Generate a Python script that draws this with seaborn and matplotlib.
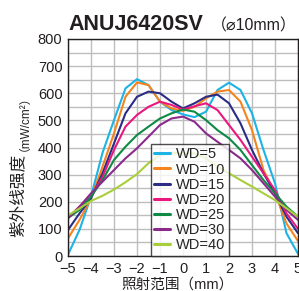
import numpy as np
import pandas as pd
import matplotlib
matplotlib.use("Agg")
import matplotlib.pyplot as plt
import seaborn as sns
from matplotlib.ticker import MultipleLocator

# irradiation position (mm)
pos = [-5, -4.5, -4, -3.5, -3, -2.5, -2, -1.5, -1, -0.5, 0,
       0.5, 1, 1.5, 2, 2.5, 3, 3.5, 4, 4.5, 5]

wd5 = [5, 96, 219, 380, 501, 618, 652, 630, 569, 538, 522,
       512, 532, 612, 639, 612, 526, 391, 268, 84, 8]
wd10 = [65, 133, 212, 329, 452, 587, 640, 630, 569, 544, 535,
        550, 581, 606, 612, 569, 464, 317, 231, 120, 55]
wd15 = [96, 157, 212, 305, 415, 526, 587, 606, 600, 569, 544,
        563, 587, 595, 563, 489, 391, 305, 231, 145, 84]
wd20 = [140, 182, 219, 292, 391, 477, 520, 550, 569, 557, 540,
        552, 563, 538, 483, 428, 366, 305, 243, 157, 100]
wd25 = [140, 170, 219, 280, 354, 403, 446, 477, 507, 526, 540,
        532, 501, 464, 434, 391, 335, 280, 231, 182, 145]
wd30 = [140, 182, 231, 274, 317, 360, 397, 440, 483, 507, 514,
        495, 452, 421, 391, 360, 317, 268, 219, 170, 133]
wd40 = [150, 175, 203, 222, 245, 272, 302, 342, 372, 381, 378,
        378, 360, 329, 305, 280, 256, 231, 206, 176, 145]

labels = ["WD=5", "WD=10", "WD=15", "WD=20", "WD=25", "WD=30", "WD=40"]
colors = ["#1DB3E4", "#F5841F", "#2A2C86", "#E8187F", "#0E8A45", "#8A2A8B", "#A9CE3B"]

rows = []
for lab, vals in zip(labels, [wd5, wd10, wd15, wd20, wd25, wd30, wd40]):
    for x, v in zip(pos, vals):
        rows.append({"pos": x, "val": v, "WD": lab})
df = pd.DataFrame(rows)

sns.set_style("white")
plt.rcParams['font.family'] = ['Liberation Sans', 'Noto Sans CJK SC', 'DejaVu Sans']

fig = plt.figure(figsize=(2.99, 2.91), dpi=100)
ax = fig.add_axes([68 / 299, 35 / 291, 230 / 299, 217 / 291])

sns.lineplot(data=df, x="pos", y="val", hue="WD", hue_order=labels,
             palette=colors, linewidth=1.5, ax=ax, sort=False)

ax.set_xlim(-5, 5)
ax.set_ylim(0, 800)
ax.xaxis.set_major_locator(MultipleLocator(1))
ax.yaxis.set_major_locator(MultipleLocator(100))
ax.yaxis.set_minor_locator(MultipleLocator(50))
ax.grid(True, which="both", color="#BDBDBD", linewidth=1.0)
ax.set_axisbelow(True)
ax.tick_params(axis="both", which="both", length=0, labelsize=10.5, colors="#231F20")
ax.tick_params(axis="y", pad=4)
ax.tick_params(axis="x", pad=4)
for s in ax.spines.values():
    s.set_color("#231F20")
    s.set_linewidth(1.0)
ax.set_xlabel("")
ax.set_ylabel("")

leg = ax.legend(loc="lower left", bbox_to_anchor=(0.36, 0.0), frameon=True,
                fontsize=10.5, handlelength=1.1, handletextpad=0.35,
                labelspacing=0.08, borderpad=0.25, borderaxespad=0.0, fancybox=False)
leg.get_frame().set_edgecolor("#231F20")
leg.get_frame().set_linewidth(1.0)
for h in leg.get_lines():
    h.set_linewidth(2.2)

# title
fig.text(68 / 299, 1 - 30 / 291, "ANUJ6420SV", fontsize=15.5, fontweight="bold",
         color="#231F20", va="baseline", ha="left")
fig.text(297 / 299, 1 - 30 / 291, "（⌀10mm）", fontsize=11.5,
         color="#231F20", va="baseline", ha="right")

# axis labels
fig.text(18 / 299, 1 - 195 / 291, "紫外线强度", fontsize=12, rotation=90,
         ha="center", va="center", color="#231F20")
fig.text(19 / 299, 1 - 117 / 291, "（mW/cm²）", fontsize=8.5, rotation=90,
         ha="center", va="center", color="#231F20")
fig.text(177 / 299, 1 - 285 / 291, "照射范围（mm）", fontsize=10.5,
         ha="center", va="center", color="#231F20")

fig.savefig("out.png", dpi=100)
